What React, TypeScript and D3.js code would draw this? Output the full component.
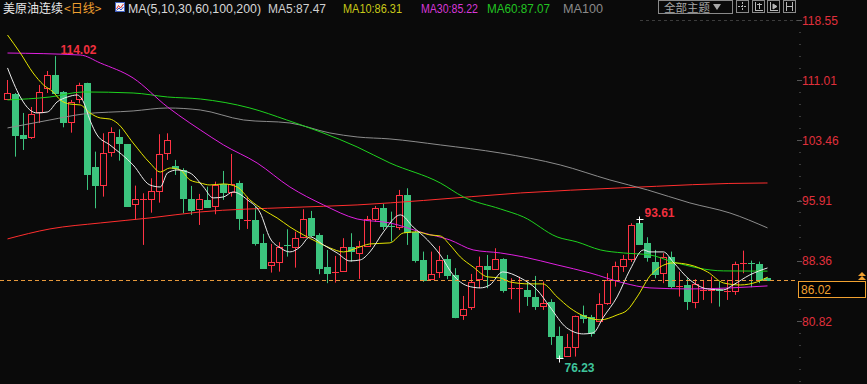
import React from "react";
import * as d3 from "d3";

// ---- data (daily OHLC) ----
const OPEN = [108.69,109.28,104.14,103.85,107.06,109.99,111.66,109.57,105.81,108.61,
110.62,100.17,97.91,101.97,103.93,103.01,95.46,96.00,96.08,97.12,
101.92,100.26,99.75,96.12,94.83,96.00,95.28,97.96,97.03,98.09,
93.40,93.49,90.57,87.81,88.19,90.36,90.14,91.32,93.70,91.61,
87.60,86.85,87.14,90.07,89.32,90.23,93.58,94.95,92.70,92.65,
96.62,92.02,88.48,86.06,87.01,88.56,86.60,81.58,82.55,86.06,
87.72,87.31,88.60,84.88,84.88,84.72,83.80,82.75,83.21,78.95,
76.45,77.61,81.55,81.30,80.87,83.05,85.97,87.76,88.60,93.07,
90.64,88.22,86.81,88.81,85.18,85.34,83.25,84.68,84.68,84.72,
84.59,84.63,88.10,88.14,87.94,86.18];
const HIGH = [111.03,109.40,106.90,107.65,110.41,112.16,114.02,109.65,108.53,110.69,
110.69,102.05,104.35,105.10,104.85,103.01,97.79,96.83,98.71,104.23,
104.35,101.01,99.97,97.75,96.75,97.66,98.29,99.63,101.76,98.41,
96.41,95.16,91.74,90.48,90.70,92.32,92.02,94.83,94.62,91.82,
89.73,88.98,91.20,91.82,90.86,93.99,95.24,95.49,94.53,97.25,
97.46,92.24,89.52,89.52,90.23,89.10,87.44,83.96,86.72,88.89,
89.10,89.94,88.69,86.18,86.38,85.76,86.47,85.76,83.55,80.12,
79.20,81.50,82.75,81.58,84.30,86.81,88.26,89.10,93.07,93.61,
91.32,89.73,89.32,89.52,87.01,86.18,86.06,85.97,86.38,85.76,
85.97,88.26,89.64,88.39,88.26,86.30];
const LOW = [108.65,101.42,102.26,103.64,105.64,109.40,109.40,105.10,104.43,108.11,
97.25,94.95,96.41,101.42,100.92,95.12,93.49,90.36,94.40,95.66,
101.01,99.13,94.33,94.12,92.86,94.99,94.20,96.00,96.41,92.24,
92.36,90.27,87.35,86.89,87.01,88.89,87.51,91.20,91.32,86.68,
85.56,85.63,87.01,88.26,86.10,90.10,93.24,92.24,90.77,92.24,
90.36,88.14,85.72,85.97,86.22,86.06,81.17,80.96,82.21,84.93,
84.93,87.22,84.38,83.55,81.87,82.71,82.21,82.21,77.82,76.23,
76.40,76.36,80.54,78.86,80.71,82.84,85.13,86.97,88.22,90.36,
88.26,86.18,85.56,84.93,83.88,82.21,82.42,83.46,83.05,82.62,
83.46,84.09,86.81,85.05,85.56,85.85];
const CLOSE = [109.44,104.14,103.80,106.73,109.49,111.66,109.44,105.81,108.24,110.41,
99.25,97.91,101.85,104.48,103.18,95.28,96.08,96.08,97.16,101.72,
103.51,100.00,96.28,94.74,96.08,95.16,97.87,97.03,98.00,93.78,
93.49,90.65,87.51,88.19,90.07,90.27,91.20,93.58,91.61,87.51,
86.89,86.93,90.07,89.64,90.23,93.58,94.95,92.77,92.65,96.62,
92.02,88.48,85.97,86.68,88.48,86.60,81.37,82.30,85.76,87.72,
87.31,88.56,84.72,84.93,84.93,83.96,82.71,83.05,78.95,76.30,
77.57,81.46,81.21,79.29,82.92,85.93,87.69,88.60,92.86,90.48,
88.89,86.72,88.81,85.22,85.22,83.38,85.43,84.72,84.72,84.68,
84.63,87.97,88.14,88.10,85.97,86.02];

// moving-average lines: [candle index, value]
const MA5: [number, number][] = [[0,112.54],[1.6,108.9],[2.8,107.27],[3.7,106.9],[5,107.02],[6.2,108.28],[7.5,108.9],[8.7,109.15],[9.5,108.28],[10.3,106.02],[11.2,104.14],[12.8,102.89],[15.7,100.38],[17.8,97.87],[19.1,97.62],[20,99.38],[21.2,99.75],[22.8,99.38],[24.5,97.62],[25.7,96.25],[27,96.37],[28.2,97.0],[30,96.0],[31.6,94.36],[32.8,91.23],[34.1,89.98],[35.3,89.48],[36.6,90.11],[37.8,91.36],[39.5,90.36],[41.2,89.35],[42.8,88.35],[44.1,88.48],[45.3,89.48],[47,91.99],[49.1,94.12],[50.7,92.61],[52.5,90.98],[54.1,89.1],[55.7,86.6],[57.5,85.22],[59.1,84.97],[60.3,85.34],[61.9,86.97],[64.1,86.22],[66.2,84.72],[67.8,82.59],[69.9,79.96],[72,79.2],[73.2,79.33],[74.5,81.33],[76.2,83.84],[77.8,87.22],[79.5,89.73],[80.3,89.48],[82,89.48],[83.2,88.22],[85.3,85.97],[87.5,84.84],[89.5,84.72],[90.7,85.34],[92.8,86.6],[95,87.47]];
const MA10: [number, number][] = [[0,116.67],[1.6,114.41],[3.2,111.91],[4.5,110.41],[5.7,109.53],[6.6,108.53],[7.8,108.02],[9.1,107.9],[10.3,106.9],[11.6,106.27],[12.8,106.14],[13.7,105.64],[15.7,103.14],[17.8,100.63],[19.1,99.5],[20.3,100.0],[21.6,99.75],[22.8,98.5],[24.1,98.12],[25.3,97.87],[27,98.0],[28.7,97.62],[30.3,96.0],[32,94.74],[33.7,93.74],[35.3,92.61],[37,91.61],[38.7,90.73],[40.3,89.98],[42,89.48],[43.7,89.98],[45.3,90.48],[47.8,90.61],[49.5,91.86],[51.2,91.99],[52.8,91.61],[54.1,91.48],[55.3,90.36],[56.6,88.85],[58.2,87.6],[60,86.35],[61.6,86.22],[62.8,85.72],[65.3,85.47],[66.9,85.47],[68.7,83.84],[70.3,82.46],[72,81.46],[74.1,80.96],[76.2,81.58],[77.5,82.21],[78.7,83.84],[80.5,86.7],[83.2,88.1],[85.3,87.85],[87.5,86.97],[89.5,85.59],[91.6,85.34],[93.7,85.72],[95,86.31]];
const MA30: [number, number][] = [[0,114.41],[9.1,114.16],[11.6,113.16],[15.7,111.28],[20,107.65],[22.8,105.64],[24.1,104.77],[27,102.89],[31.2,100.63],[35.3,97.62],[39.5,95.37],[43.7,93.61],[47.8,93.11],[52,91.86],[55.3,90.98],[58.2,89.73],[61.6,89.35],[64.5,88.85],[68.7,87.85],[72.8,86.85],[77,85.59],[80.3,84.97],[85.3,84.84],[95,85.22]];
const MA60: [number, number][] = [[0,108.53],[5.3,108.9],[9.5,109.53],[15.7,109.4],[20,108.9],[24.1,108.65],[30.3,107.52],[34.9,106.02],[43.7,102.64],[47.8,100.63],[54.1,98.12],[57,96.37],[61.6,94.87],[64.5,93.86],[68.7,91.36],[71.2,90.73],[74.1,89.73],[77,89.35],[80.3,89.1],[83.2,88.22],[89.5,87.1],[95,87.07]];
const MA100: [number, number][] = [[0,105.02],[5.3,106.02],[9.5,106.77],[15.7,107.15],[20,107.52],[24.1,107.27],[29.5,106.02],[35.3,105.64],[40.3,104.39],[43.7,103.89],[47.8,103.64],[54.1,102.89],[61.6,101.88],[69.1,100.38],[75.3,98.5],[80,97.25],[85.3,95.62],[90.3,94.36],[95,92.49]];
const MA200: [number, number][] = [[0,91.11],[5.3,92.36],[11.6,93.11],[17.8,93.74],[24.1,94.49],[35.3,95.05],[43.7,95.37],[52,95.93],[64.1,96.87],[76.6,97.5],[94.7,98.12],[95,98.12]];

const Y_TICKS = [118.55, 111.01, 103.46, 95.91, 88.36, 80.82];
const LAST_PRICE = 86.02;
const TITLE = "美原油连续";
const PERIOD = "<日线>";
const THEME_BUTTON = "全部主题";
const LEGEND = [
  { text: "MA(5,10,30,60,100,200)", color: "#d8d8d8" },
  { text: "MA5:87.47", color: "#d0d0d0" },
  { text: "MA10:86.31", color: "#c8c818" },
  { text: "MA30:85.22", color: "#d838d8" },
  { text: "MA60:87.07", color: "#22c322" },
  { text: "MA100", color: "#8a8a8a" },
];
const LEGEND_X = [128, 268, 343, 421, 487, 563];
const LEGEND_W = [133, 58, 59, 57, 63, 40];
const EXTREMES = [
  { idx: 6, value: 114.02, kind: "high", color: "#f0303f", cross: false },
  { idx: 79, value: 93.61, kind: "high", color: "#f0303f", cross: true },
  { idx: 69, value: 76.23, kind: "low", color: "#3fc49c", cross: true },
];

const W = 867, H = 384;
const BG = "#0a0a0a";
const UP = "#ff3344";
const DOWN = "#3cc47e";
const FONT = "'Liberation Sans', Arial, sans-serif";
const CJK = "'Noto Sans CJK SC', 'Liberation Sans', sans-serif";

export default function App() {
  const x = d3.scaleLinear().domain([0, OPEN.length - 1]).range([7.5, 767.5]);
  const y = d3.scaleLinear().domain([118.55, 80.82]).range([20, 321]);

  const line = d3
    .line<[number, number]>()
    .x((d) => x(d[0]))
    .y((d) => y(d[1]))
    .curve(d3.curveMonotoneX);

  const maLines = [
    { data: MA200, color: "#ff2e2e" },
    { data: MA100, color: "#8c8c8c" },
    { data: MA60, color: "#1ed21e" },
    { data: MA30, color: "#e020e0" },
    { data: MA10, color: "#e6e600" },
    { data: MA5, color: "#ececec" },
  ];

  const step = (y(Y_TICKS[1]) - y(Y_TICKS[0])) / 5;
  const minor: number[] = [];
  for (let k = 0; k <= 30; k++) {
    const yy = y(Y_TICKS[0]) + k * step;
    if (yy < H) minor.push(yy);
  }

  return (
    <svg
      width={W}
      height={H}
      style={{ position: "fixed", left: 0, top: 0, background: BG, display: "block" }}
    >
      <rect x={0} y={0} width={W} height={H} fill={BG} />
      <line x1={640} x2={797} y1={20.5} y2={20.5} stroke="#3c3c3c" strokeDasharray="3,3" />

      {/* candles */}
      {OPEN.map((o, i) => {
        const c = CLOSE[i];
        const up = c >= o;
        const cx = Math.round(x(i) - 0.5) + 0.5;
        const yH = y(HIGH[i]);
        const yL = y(LOW[i]);
        const yT = Math.round(y(Math.max(o, c)));
        const yB = Math.round(y(Math.min(o, c)));
        const color = up ? UP : DOWN;
        const flat = yB - yT < 2;
        if (flat) {
          return (
            <g key={i}>
              <line x1={cx} x2={cx} y1={yH} y2={yL} stroke={color} />
              <line x1={cx - 3.5} x2={cx + 3.5} y1={yT + 0.5} y2={yT + 0.5} stroke={color} />
            </g>
          );
        }
        if (up) {
          return (
            <g key={i}>
              <line x1={cx} x2={cx} y1={yH} y2={yT + 0.5} stroke={color} />
              <line x1={cx} x2={cx} y1={yB + 0.5} y2={yL} stroke={color} />
              <rect x={cx - 3} y={yT + 0.5} width={6} height={yB - yT} fill={BG} stroke={color} />
            </g>
          );
        }
        return (
          <g key={i}>
            <line x1={cx} x2={cx} y1={yH} y2={yL} stroke={color} />
            <rect x={cx - 3.5} y={yT} width={7} height={yB - yT + 1} fill={color} />
          </g>
        );
      })}

      {/* moving averages */}
      {maLines.map((m, k) => (
        <path key={k} d={line(m.data) || ""} fill="none" stroke={m.color} strokeWidth={1} />
      ))}

      {/* extremes */}
      {EXTREMES.map((e, k) => {
        const cx = Math.round(x(e.idx) - 0.5) + 0.5;
        const yy = Math.round(y(e.value)) + 0.5;
        return (
          <g key={k}>
            {e.cross && (
              <g stroke="#ffffff">
                <line x1={cx - 3} x2={cx + 4} y1={yy} y2={yy} />
                <line x1={cx} x2={cx} y1={yy - 3} y2={yy + 4} />
              </g>
            )}
            <text
              x={cx + 5}
              y={e.kind === "high" ? yy - 3 : yy + 13}
              fill={e.color}
              fontFamily={FONT}
              fontWeight="bold"
              fontSize={12}
            >
              {e.value.toFixed(2)}
            </text>
          </g>
        );
      })}

      {/* last price dashed line */}
      <line
        x1={0}
        x2={797}
        y1={Math.round(y(LAST_PRICE)) + 0.5}
        y2={Math.round(y(LAST_PRICE)) + 0.5}
        stroke="#e89a3c"
        strokeDasharray="4,3"
      />

      {/* price axis */}
      {minor.map((yy, k) => (
        <line key={k} x1={799} x2={801} y1={Math.round(yy) + 0.5} y2={Math.round(yy) + 0.5} stroke="#3a3a3a" />
      ))}
      {Y_TICKS.map((t, k) => (
        <g key={k}>
          <line x1={797} x2={802} y1={Math.round(y(t)) + 0.5} y2={Math.round(y(t)) + 0.5} stroke="#555" />
          <text x={802} y={y(t) + 4.5} fill="#e0303c" fontFamily={FONT} fontSize={12}>
            {t.toFixed(2)}
          </text>
        </g>
      ))}
      <rect x={798.5} y={281.5} width={67} height={16} fill="#000" stroke="#f0a030" />
      <text x={801} y={294} fill="#f0a030" fontFamily={FONT} fontSize={12}>
        {LAST_PRICE.toFixed(2)}
      </text>
      <g fill="#f0a030">
        <path d="M858,276 L862,272 L866,276 Z" />
        <path d="M858,280 L862,276 L866,280 Z" />
      </g>

      {/* header */}
      <text x={3} y={12.5} fontFamily={CJK} fontSize={12} fill="#e8e8e8">
        {TITLE}
      </text>
      <text x={64} y={12.5} fontFamily={CJK} fontSize={12} fill="#f0a030">
        {PERIOD}
      </text>
      <g>
        <rect x={115.5} y={2.5} width={9} height={9} fill="#f4f4f4" stroke="#4060c0" />
        <polyline points="116.5,9 118.5,5.5 120.5,8 123.5,4" fill="none" stroke="#e03030" />
        <polyline points="116.5,10.5 119,8 121,10 123.5,7" fill="none" stroke="#3050d0" />
      </g>
      {LEGEND.map((l, k) => (
        <text
          key={k}
          x={LEGEND_X[k]}
          y={12.5}
          fontFamily={FONT}
          fontSize={12}
          fill={l.color}
          textLength={LEGEND_W[k]}
          lengthAdjust="spacingAndGlyphs"
        >
          {l.text}
        </text>
      ))}
      <rect x={658.5} y={0.5} width={74} height={13} fill="none" stroke="#8a8a8a" />
      <text x={664} y={12} fontFamily={CJK} fontSize={11} fill="#a8a8a8" textLength={46} lengthAdjust="spacingAndGlyphs">
        {THEME_BUTTON}
      </text>
      <path d="M713,4 L721,4 L717,10 Z" fill="#a8a8a8" />
      {[736, 752, 767, 783].map((bx, k) => (
        <g key={k} stroke="#b8b8b8" fill="none">
          <rect x={bx + 0.5} y={0.5} width={12} height={12} stroke="#8a8a8a" />
          {k === 0 && (
            <g>
              <line x1={bx + 6.5} x2={bx + 6.5} y1={2} y2={11} strokeDasharray="2,1" />
              <line x1={bx + 2} x2={bx + 11} y1={6.5} y2={6.5} strokeDasharray="2,1" />
            </g>
          )}
          {k === 1 && (
            <g>
              <line x1={bx + 3.5} x2={bx + 3.5} y1={2} y2={11} />
              <line x1={bx + 3} x2={bx + 11} y1={10.5} y2={10.5} />
              <line x1={bx + 7.5} x2={bx + 7.5} y1={3} y2={9} />
              <line x1={bx + 5} x2={bx + 10} y1={4.5} y2={4.5} />
            </g>
          )}
          {k === 2 && (
            <g>
              <line x1={bx + 3.5} x2={bx + 3.5} y1={2} y2={11} />
              <line x1={bx + 3} x2={bx + 11} y1={10.5} y2={10.5} />
              <path d={`M${bx + 6},4 L${bx + 10},6.5 L${bx + 6},9 Z`} fill="#b8b8b8" />
            </g>
          )}
          {k === 3 && (
            <g>
              <line x1={bx + 3.5} x2={bx + 3.5} y1={2} y2={11} />
              <line x1={bx + 9.5} x2={bx + 9.5} y1={2} y2={11} />
              <line x1={bx + 4} x2={bx + 9} y1={6.5} y2={6.5} />
            </g>
          )}
        </g>
      ))}
    </svg>
  );
}
